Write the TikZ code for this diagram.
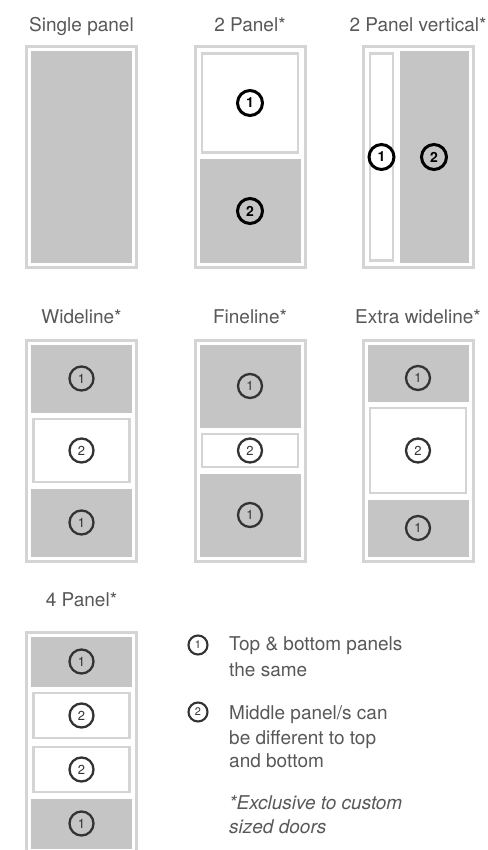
\documentclass[tikz,border=0pt]{standalone}
\usepackage{fontspec}
\setmainfont{TeX Gyre Heros}
\usepackage{tikz}
\usetikzlibrary{positioning}
\definecolor{cPanel}{RGB}{198,197,198}
\definecolor{cFrame}{RGB}{212,212,212}
\definecolor{cText} {RGB}{88,88,88}
\definecolor{cNum}  {RGB}{51,51,51}
\tikzset{
  frame/.style={draw=cFrame,line width=3pt},
  graypanel/.style={fill=cPanel},
  whitepanel/.style={draw=cFrame,line width=2.4pt,fill=white},
  title/.style={anchor=base,inner sep=0pt,text=cText,font=\fontsize{19}{22}\selectfont},
  legtext/.style={anchor=base west,inner sep=0pt,text=cText,font=\fontsize{19}{22}\selectfont},
  numA/.style={circle,draw=black,line width=3pt,minimum size=25pt,inner sep=0pt,
               font=\fontsize{14}{14}\bfseries\selectfont},
  numB/.style={circle,draw=cNum,line width=2.3pt,minimum size=24pt,inner sep=0pt,
               text=cNum,font=\fontsize{13}{13}\selectfont},
  numL/.style={circle,draw=cNum,line width=2.1pt,minimum size=19pt,inner sep=0pt,
               text=cNum,font=\fontsize{11}{11}\selectfont},
}
\begin{document}
\begin{tikzpicture}[x=1pt,y=-1pt]
  \clip (0,0) rectangle (487,850);
  \fill[white] (0,0) rectangle (487,850);

  % top row
  \node[title] (t1) at (81.5,31.5) {Single panel};
  \node[title] (t2) at (250,31.5)  {2 Panel*};
  \node[title] (t3) at (418,31.5)  {2 Panel vertical*};
  \begin{scope}[shift={(26.5,46.5)}]
    \draw[frame] (0,0) rectangle (110,221);
    \fill[graypanel] (4.5,4.5) rectangle (105.5,216.5);
  \end{scope}
  \begin{scope}[shift={(195,46.5)}]
    \draw[frame] (0,0) rectangle (110,221);
    \draw[whitepanel] (7,7) rectangle (103,106);
    \fill[graypanel] (4.5,112.5) rectangle (105.5,216.5);
    \node[numA] (p1) at (55,56.5)  {1};
    \node[numA] (p2) at (55,164.5) {2};
  \end{scope}
  \begin{scope}[shift={(363,46.5)}]
    \draw[frame] (0,0) rectangle (110,221);
    \draw[whitepanel] (7,7) rectangle (30,214);
    \fill[graypanel] (36.5,4.5) rectangle (105.5,216.5);
    \node[numA] (v1) at (18.5,110.5) {1};
    \node[numA] (v2) at (71,110.5)   {2};
  \end{scope}

  % middle row
  \node[title] (t4) at (81.5,323) {Wideline*};
  \node[title] (t5) at (250,323)  {Fineline*};
  \node[title] (t6) at (418,323)  {Extra wideline*};
  \begin{scope}[shift={(26.5,340)}]
    \draw[frame] (0,0) rectangle (110,221);
    \fill[graypanel] (4.5,4.5) rectangle (105.5,72.5);
    \draw[whitepanel] (7,79) rectangle (103,142);
    \fill[graypanel] (4.5,148.5) rectangle (105.5,216.5);
    \node[numB] (w1) at (55,38.5)  {1};
    \node[numB] (w2) at (55,110.5) {2};
    \node[numB] (w3) at (55,182.5) {1};
  \end{scope}
  \begin{scope}[shift={(195,340)}]
    \draw[frame] (0,0) rectangle (110,221);
    \fill[graypanel] (4.5,4.5) rectangle (105.5,87.5);
    \draw[whitepanel] (7,94) rectangle (103,127);
    \fill[graypanel] (4.5,133.5) rectangle (105.5,216.5);
    \node[numB] (f1) at (55,46)    {1};
    \node[numB] (f2) at (55,110.5) {2};
    \node[numB] (f3) at (55,175)   {1};
  \end{scope}
  \begin{scope}[shift={(363,340)}]
    \draw[frame] (0,0) rectangle (110,221);
    \fill[graypanel] (4.5,4.5) rectangle (105.5,61.5);
    \draw[whitepanel] (7,68) rectangle (103,153);
    \fill[graypanel] (4.5,159.5) rectangle (105.5,216.5);
    \node[numB] (e1) at (55,38)    {1};
    \node[numB] (e2) at (55,110.5) {2};
    \node[numB] (e3) at (55,188)   {1};
  \end{scope}

  % bottom row
  \node[title] (t7) at (81.5,606) {4 Panel*};
  \begin{scope}[shift={(26.5,632)}]
    \draw[frame] (0,0) rectangle (110,221);
    \fill[graypanel] (4.5,4.5) rectangle (105.5,54.5);
    \draw[whitepanel] (7,61) rectangle (103,106);
    \draw[whitepanel] (7,115) rectangle (103,160);
    \fill[graypanel] (4.5,166.5) rectangle (105.5,216.5);
    \node[numB] (q1) at (55,29.5)  {1};
    \node[numB] (q2) at (55,83.5)  {2};
    \node[numB] (q3) at (55,137.5) {2};
    \node[numB] (q4) at (55,191.5) {1};
  \end{scope}

  % key
  \node[numL] (k1) at (198,645) {1};
  \node[legtext] (l1) at (229,650.7) {Top \& bottom panels};
  \node[legtext] (l2) at (229,676)   {the same};
  \node[numL] (k2) at (198,712) {2};
  \node[legtext] (l3) at (229,719.3) {Middle panel/s can};
  \node[legtext] (l4) at (229,744)   {be different to top};
  \node[legtext] (l5) at (229,767.3) {and bottom};
  \node[legtext,font=\fontsize{19}{22}\itshape\selectfont] (l6) at (229,809)   {*Exclusive to custom};
  \node[legtext,font=\fontsize{19}{22}\itshape\selectfont] (l7) at (229,833.3) {sized doors};
\end{tikzpicture}
\end{document}
